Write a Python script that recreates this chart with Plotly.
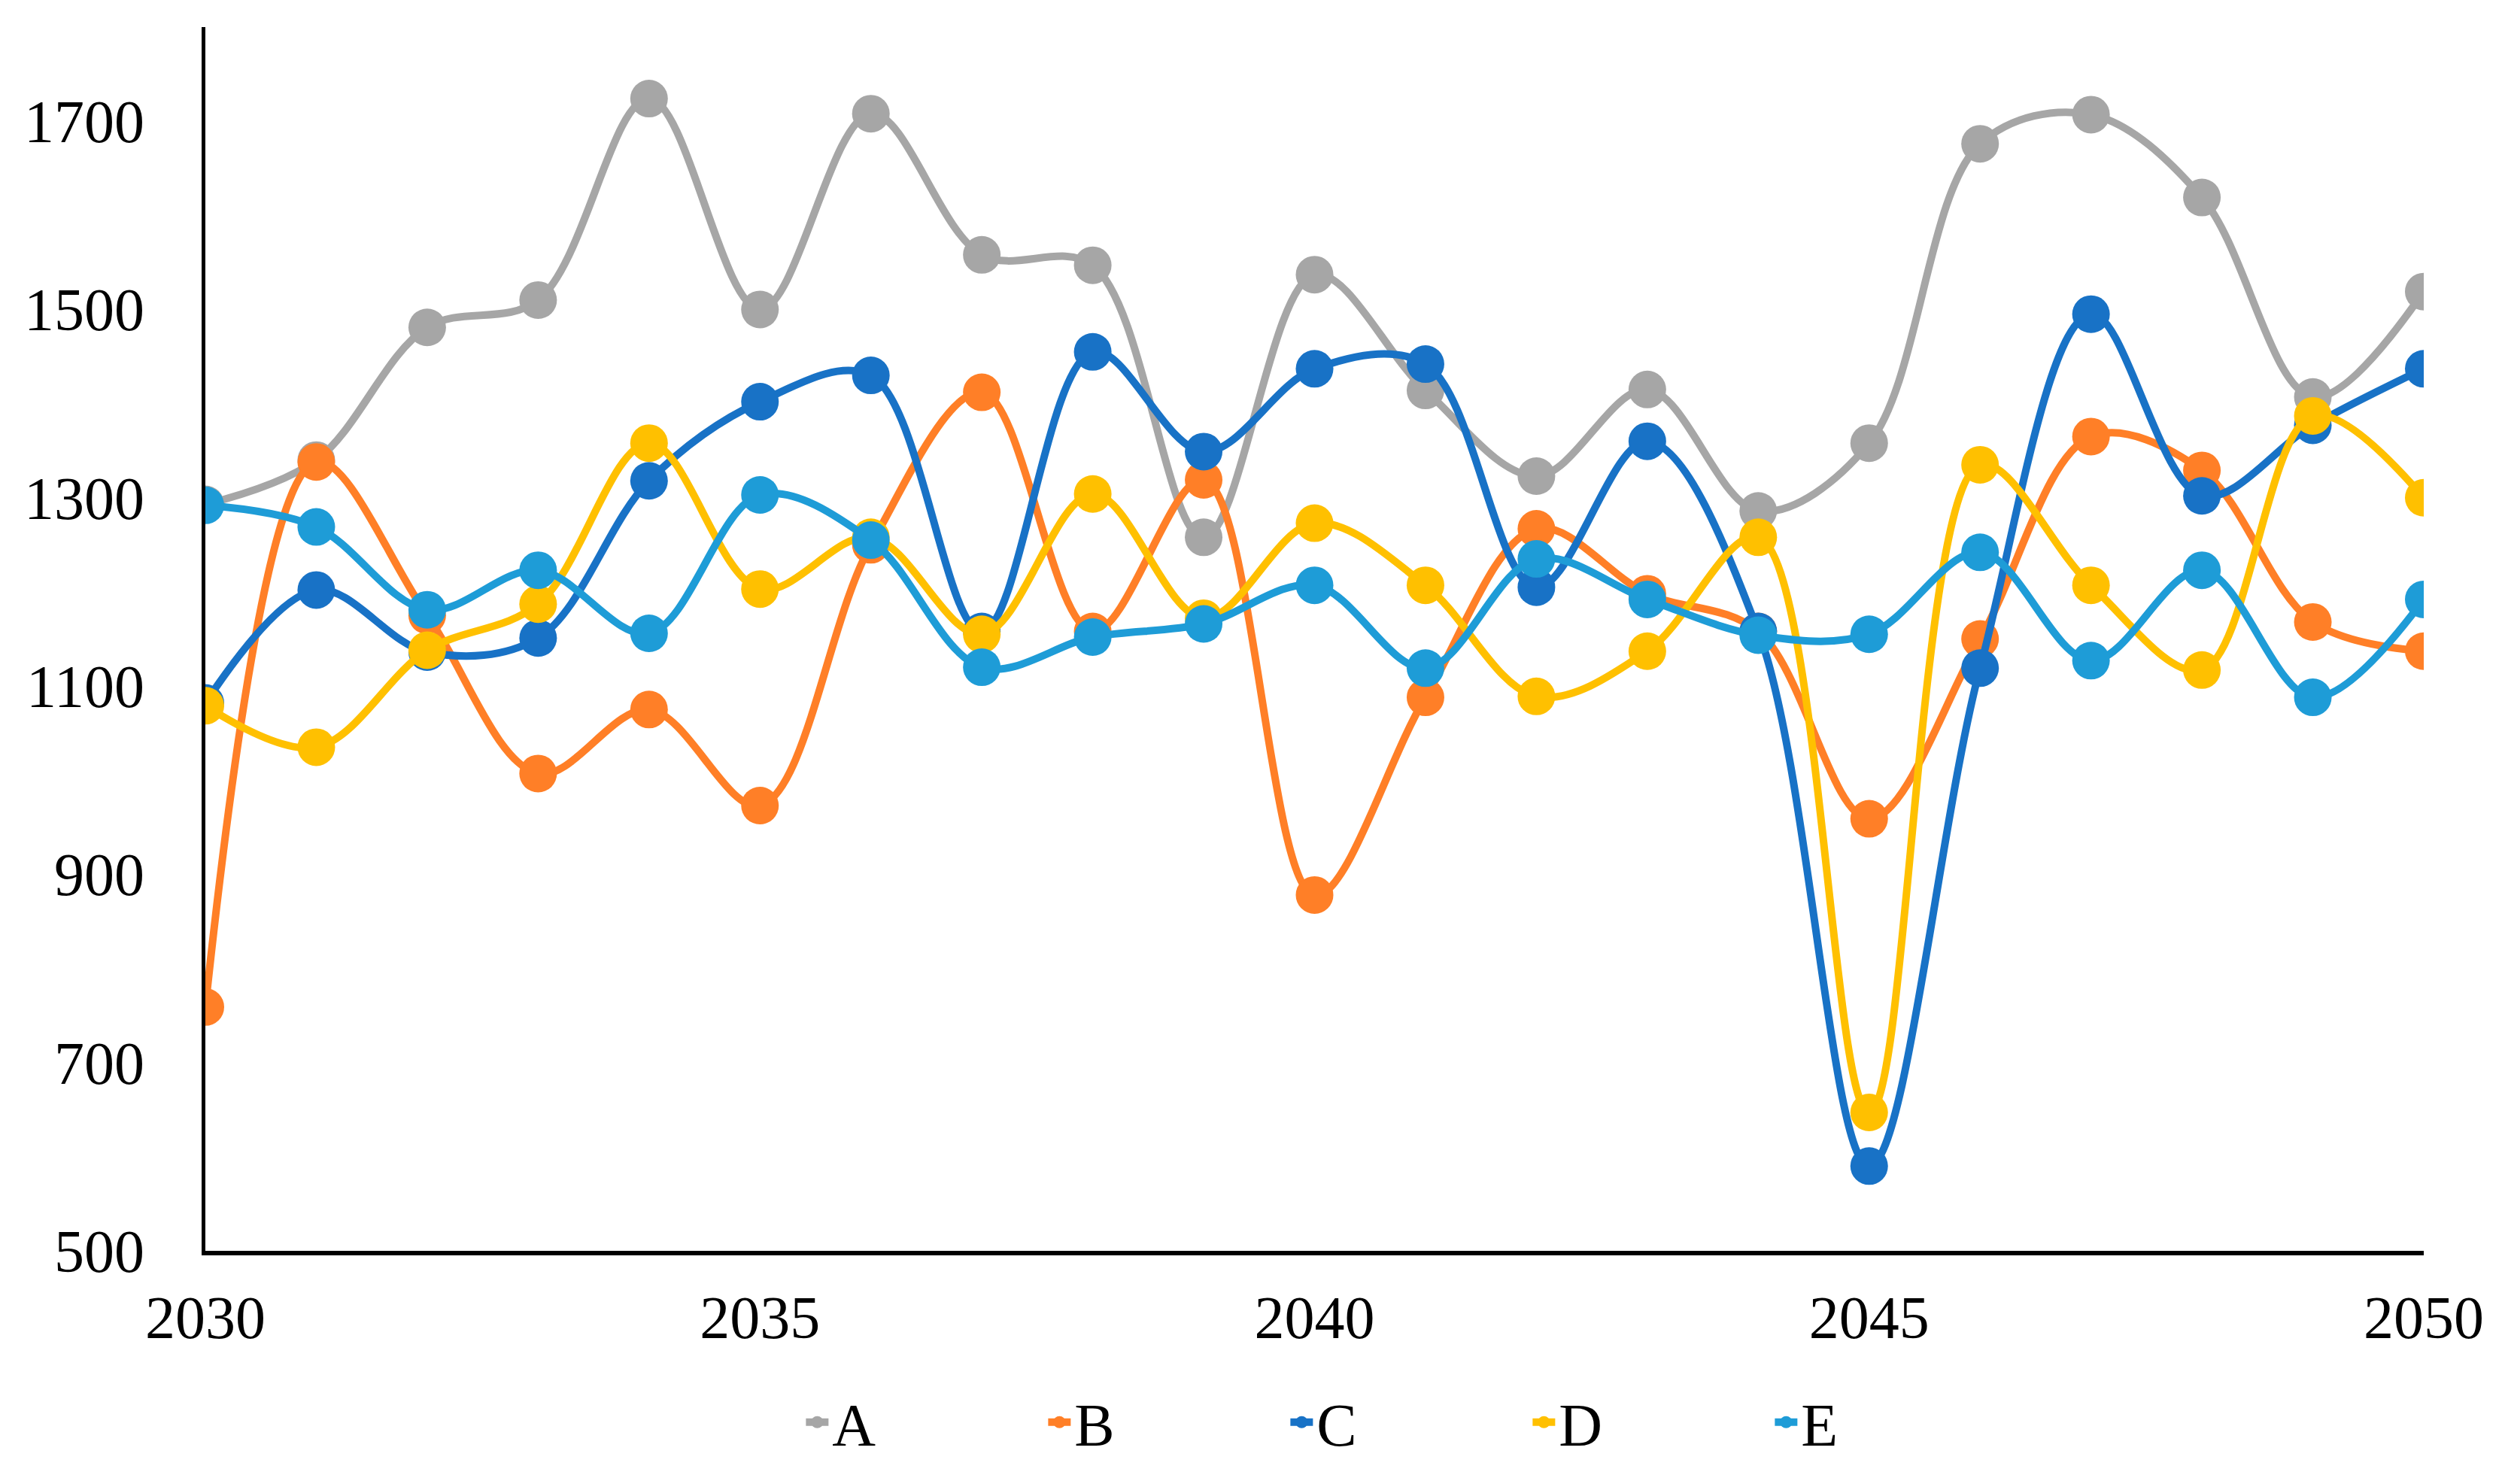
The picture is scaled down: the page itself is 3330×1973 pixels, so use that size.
import plotly.graph_objects as go

years = list(range(2030, 2051))

A = [1293, 1340, 1481, 1510, 1724, 1500, 1708, 1558, 1547, 1258, 1537,
     1414, 1323, 1415, 1286, 1358, 1676, 1707, 1619, 1407, 1519]
B = [759, 1338, 1175, 1007, 1075, 973, 1250, 1412, 1158, 1319, 878,
     1088, 1267, 1198, 1158, 959, 1150, 1365, 1329, 1168, 1137]
C = [1082, 1202, 1136, 1151, 1318, 1402, 1430, 1158, 1455, 1349, 1437,
     1442, 1205, 1360, 1158, 590, 1119, 1495, 1302, 1377, 1437]
D = [1079, 1035, 1138, 1187, 1358, 1203, 1258, 1155, 1304, 1172, 1273,
     1207, 1089, 1137, 1258, 647, 1335, 1207, 1117, 1387, 1300]
E = [1292, 1269, 1181, 1223, 1156, 1303, 1255, 1120, 1152, 1166, 1207,
     1119, 1235, 1192, 1154, 1155, 1242, 1127, 1223, 1088, 1192]

series = [("A", A, "#A6A6A6"), ("B", B, "#FF7F27"), ("C", C, "#1872C6"),
          ("D", D, "#FFC000"), ("E", E, "#1E9CD7")]

x_ticks = [2030, 2035, 2040, 2045, 2050]
y_ticks = [500, 700, 900, 1100, 1300, 1500, 1700]

FONT = "Liberation Serif, Times New Roman, serif"

fig = go.Figure()
for name, vals, col in series:
    fig.add_trace(go.Scatter(
        x=years, y=vals, name=name, mode="lines+markers",
        line=dict(color=col, width=10, shape="spline", smoothing=1.0),
        marker=dict(color=col, size=50),
    ))

fig.update_layout(
    width=3330, height=1973,
    margin=dict(l=265, r=116, t=28, b=318),
    paper_bgcolor="white", plot_bgcolor="white",
    font=dict(family=FONT, size=80, color="black"),
    showlegend=True,
    legend=dict(orientation="h", x=0.542, xanchor="center", y=-0.14, yanchor="middle",
                font=dict(family=FONT, size=80, color="black"),
                entrywidth=277, entrywidthmode="pixels", itemsizing="trace"),
    xaxis=dict(range=[2030, 2050], tickvals=x_ticks, ticktext=[str(v) for v in x_ticks],
               showgrid=False, zeroline=False, showline=True, linecolor="black",
               linewidth=6, ticks="", ticklabelstandoff=14),
    yaxis=dict(range=[500, 1800], tickvals=y_ticks, ticktext=[str(v) for v in y_ticks],
               showgrid=False, zeroline=False, showline=True, linecolor="black",
               linewidth=5, ticks="", ticklabelstandoff=60),
)

fig.write_html("out.html")
